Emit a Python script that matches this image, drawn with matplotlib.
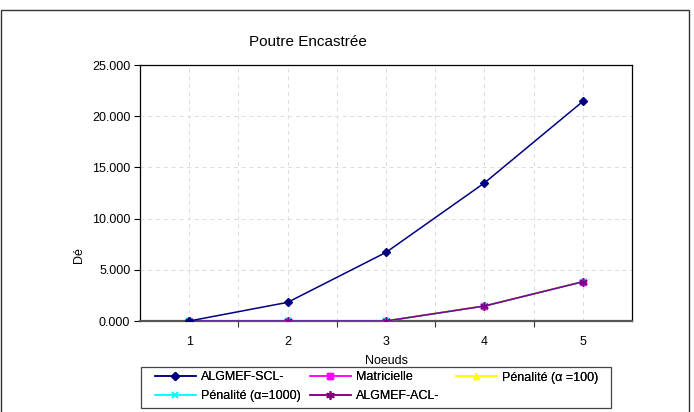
import matplotlib
matplotlib.use("Agg")
import matplotlib.pyplot as plt
from matplotlib.patches import Rectangle
from matplotlib.ticker import FuncFormatter, FixedLocator

plt.rcParams['font.family'] = ['Liberation Sans', 'DejaVu Sans']

categories = ["1", "2", "3", "4", "5"]
algmef_scl = [0, 1820, 6700, 13480, 21440]
matricielle = [0, 0, 0, 1460, 3830]
penalite_100 = [0, 0, 30, 1500, 3870]
penalite_1000 = [0, 0, 0, 1460, 3830]
algmef_acl = [0, 0, 0, 1460, 3830]

W, H = 694, 412
fig = plt.figure(figsize=(W / 100, H / 100), dpi=100)
ax = fig.add_axes([140 / W, 1 - 321 / H, (632 - 140) / W, (321 - 65) / H])

x = [i + 0.5 for i in range(len(categories))]

l1, = ax.plot(x, algmef_scl, color="#000080", lw=1.1, marker="D", ms=4.5,
              mfc="#000080", mec="#000080", label="ALGMEF-SCL-", zorder=5)
l2, = ax.plot(x, matricielle, color="#FF00FF", lw=1.1, marker="s", ms=5,
              mfc="#FF00FF", mec="#FF00FF", label="Matricielle", zorder=3)
l3, = ax.plot(x, penalite_100, color="#FFFF00", lw=1.1, marker="^", ms=5,
              mfc="#FFFF00", mec="#FFFF00", label="Pénalité (α =100)", zorder=2)
l4, = ax.plot(x, penalite_1000, color="#00FFFF", lw=1.1, marker="x", ms=5,
              mew=1.1, label="Pénalité (α=1000)", zorder=3.5)
l5, = ax.plot(x, algmef_acl, color="#800080", lw=1.1, marker=(6, 2, 0), ms=6,
              mew=1.1, label="ALGMEF-ACL-", zorder=4)

ax.set_xlim(0, 5)
ax.set_ylim(0, 25000)

ax.xaxis.set_major_locator(FixedLocator([1, 2, 3, 4]))
ax.set_xticklabels([])
ax.set_xticks(x, minor=True)
ax.set_xticklabels(categories, minor=True)
ax.tick_params(axis="x", which="major", direction="out", length=4, width=0.8, colors="#333333")
ax.tick_params(axis="x", which="minor", length=0, labelsize=9, pad=11)

ax.set_yticks([0, 5000, 10000, 15000, 20000, 25000])
ax.yaxis.set_major_formatter(FuncFormatter(lambda v, p: f"{v/1000:.3f}"))
ax.tick_params(axis="y", direction="out", length=4, width=0.8, labelsize=9, pad=3)

# gridlines
for gx in [0.5, 1, 1.5, 2, 2.5, 3, 3.5, 4, 4.5]:
    ax.axvline(gx, color="#dcdcdc", lw=0.7, ls=(0, (4, 4)), zorder=0)
for gy in [5000, 10000, 15000, 20000]:
    ax.axhline(gy, color="#dcdcdc", lw=0.7, ls=(0, (4, 4)), zorder=0)

for s in ["top", "right", "left"]:
    ax.spines[s].set_color("#000000")
    ax.spines[s].set_linewidth(0.9)
ax.spines["bottom"].set_color("#555555")
ax.spines["bottom"].set_linewidth(1.6)

ax.set_xlabel("Noeuds", fontsize=9)
ax.xaxis.set_label_coords(0.5, -(355 - 321) / 256)
ax.set_ylabel("Dé", fontsize=9)
ax.yaxis.set_label_coords((85 - 140) / 492, (321 - 255) / 256)

fig.text(308 / W, 1 - 42 / H, "Poutre Encastrée", ha="center", va="center", fontsize=11)

# legend box
fig.patches.append(Rectangle((141 / W, 1 - 408 / H), (611 - 141) / W, (408 - 367) / H,
                             transform=fig.transFigure, fill=False,
                             edgecolor="#444444", lw=0.9))
columns = [([l1, l4], 152), ([l2, l5], 307), ([l3], 453)]
for hs, xpos in columns:
    lg = fig.legend(hs, [h.get_label() for h in hs], loc="upper left",
                    bbox_to_anchor=(xpos / W, 1 - 369 / H),
                    fontsize=9, frameon=False, handlelength=3.3,
                    handletextpad=0.4, borderaxespad=0.0,
                    labelspacing=0.55, borderpad=0.2)
    fig.add_artist(lg)

# outer frame
fig.patches.append(Rectangle((0.5 / W, -0.01), (689 - 0.5) / W, 1 - 10 / H + 0.01,
                             transform=fig.transFigure, fill=False,
                             edgecolor="#333333", lw=1.0))

fig.savefig("out.png", dpi=100)
